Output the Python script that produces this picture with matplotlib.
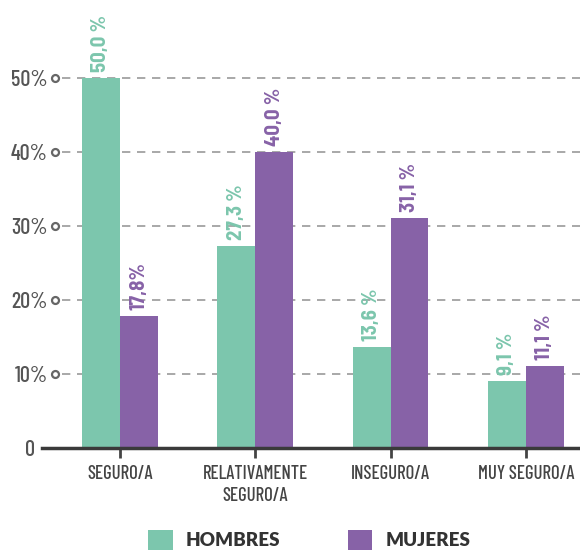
import matplotlib
matplotlib.use("Agg")
import matplotlib.pyplot as plt
import matplotlib.transforms as mtransforms
import numpy as np

categorias = ["SEGURO/A", "RELATIVAMENTE\nSEGURO/A", "INSEGURO/A", "MUY SEGURO/A"]
hombres = [50.0, 27.3, 13.6, 9.1]
mujeres = [17.8, 40.0, 31.1, 11.1]
etiquetas_hombres = ["50,0 %", "27,3 %", "13,6 %", "9,1 %"]
etiquetas_mujeres = ["17,8%", "40,0 %", "31,1 %", "11,1 %"]
yticks = [0, 10, 20, 30, 40, 50]
ytick_labels = ["0", "10%", "20%", "30%", "40%", "50%"]

verde = "#7cc6ad"
morado = "#8762a7"
fuente = ["Barlow Condensed", "Roboto Condensed", "DejaVu Sans"]
fuente_valores = ["Barlow Semi Condensed", "Roboto Condensed", "DejaVu Sans"]

fig = plt.figure(figsize=(5.8, 5.5), dpi=100)
ax = fig.add_axes([42 / 580, 1 - 448 / 550, 538 / 580, 448 / 550])

x = np.arange(len(categorias))
ancho = 0.28
ax.bar(x - ancho / 2, hombres, ancho, color=verde, label="HOMBRES", zorder=3)
ax.bar(x + ancho / 2, mujeres, ancho, color=morado, label="MUJERES", zorder=3)

for i in range(len(categorias)):
    ax.text(x[i] - ancho / 2, hombres[i] + 0.8, etiquetas_hombres[i], rotation=90,
            ha="center", va="bottom", color=verde, fontsize=15, fontweight="bold",
            family=fuente_valores, zorder=4)
    ax.text(x[i] + ancho / 2, mujeres[i] + 0.8, etiquetas_mujeres[i], rotation=90,
            ha="center", va="bottom", color=morado, fontsize=15, fontweight="bold",
            family=fuente_valores, zorder=4)

ax.set_xlim(-0.576, 3.4)
ax.set_ylim(0, 60.5)

# lineas punteadas y circulitos
trans = mtransforms.blended_transform_factory(ax.transAxes, ax.transData)
for v in yticks[1:]:
    ax.plot([20 / 538, 1], [v, v], transform=trans, color="#9a9a9a", lw=1.2,
            dashes=(5, 4), zorder=1)
    ax.plot([13 / 538], [v], transform=trans, marker="o", ms=5, mfc="white",
            mec="#666666", mew=1.6, zorder=2, clip_on=False)

ax.set_yticks(yticks)
ax.set_yticklabels(ytick_labels, family=fuente, fontsize=16, color="#555555",
                   fontweight="medium")
ax.tick_params(axis="y", length=0, pad=-4)
cero = ax.get_yticklabels()[0]
cero.set_transform(cero.get_transform() + mtransforms.ScaledTranslation(-9 / 72, 0, fig.dpi_scale_trans))

ax.set_xticks(x)
ax.set_xticklabels(categorias, family=fuente, fontsize=13.5, color="#444444",
                   linespacing=1.3, fontweight="medium")
ax.tick_params(axis="x", length=7, width=2, color="#444444", pad=5)

for s in ["top", "right", "left"]:
    ax.spines[s].set_visible(False)
ax.spines["bottom"].set_linewidth(2.5)
ax.spines["bottom"].set_color("#3a3a3a")
ax.spines["bottom"].set_zorder(5)

leg = fig.legend(loc="center", bbox_to_anchor=(0.533, 0.018), ncol=2, frameon=False,
                 prop={"family": ["Lato", "DejaVu Sans"], "weight": "heavy", "size": 13.5},
                 handlelength=1.3, handleheight=1.3, handletextpad=0.7,
                 columnspacing=3.6, labelcolor="#333333")

fig.savefig("out.png", dpi=100)
